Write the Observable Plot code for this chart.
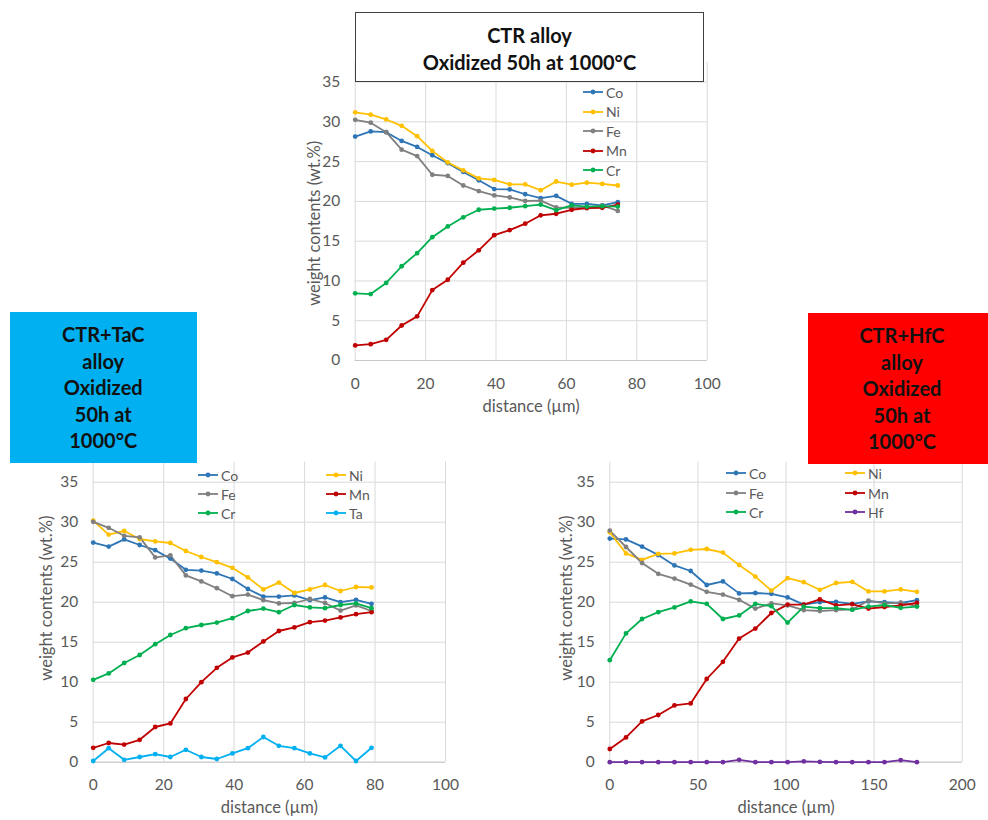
<!DOCTYPE html>
<html><head><meta charset="utf-8">
<script src="https://cdn.jsdelivr.net/npm/d3@7"></script>
<script src="https://cdn.jsdelivr.net/npm/@observablehq/plot@0.6"></script>
<style>
body{margin:0;background:#fff;width:988px;height:820px;position:relative;overflow:hidden;font-family:Lato,"Open Sans",sans-serif;}
.chart{position:absolute;}
.box{position:absolute;display:flex;flex-direction:column;justify-content:center;align-items:center;text-align:center;font-weight:bold;font-size:20px;line-height:26.5px;color:#111;box-sizing:border-box;}
.li{position:absolute;display:flex;align-items:center;white-space:nowrap;font-size:14px;color:#595959;height:16px;}
</style></head><body>
<script>
// ---------- data ----------
const colorOf = {Co: "#2E75B6", Ni: "#FFC000", Fe: "#808080", Mn: "#C00000", Cr: "#00B050", Ta: "#00B0F0", Hf: "#7030A0"};
const yTicks = [0, 5, 10, 15, 20, 25, 30, 35];

// CTR alloy
const ctrDist = [0, 4.4, 8.8, 13.2, 17.6, 21.9, 26.3, 30.7, 35.1, 39.5, 43.9, 48.3, 52.7, 57.1, 61.5, 65.8, 70.2, 74.6];
const ctrCo = [28.15, 28.8, 28.7, 27.6, 26.85, 25.8, 24.8, 23.7, 22.65, 21.55, 21.5, 20.9, 20.4, 20.7, 19.7, 19.7, 19.5, 19.9];
const ctrNi = [31.2, 30.9, 30.3, 29.5, 28.2, 26.35, 24.9, 23.9, 22.9, 22.7, 22.15, 22.15, 21.4, 22.5, 22.1, 22.35, 22.2, 22.0];
const ctrFe = [30.25, 29.9, 28.7, 26.5, 25.7, 23.35, 23.2, 22.0, 21.3, 20.75, 20.5, 20.05, 20.1, 19.25, 19.2, 19.2, 19.5, 18.8];
const ctrMn = [1.9, 2.05, 2.6, 4.4, 5.55, 8.85, 10.15, 12.3, 13.85, 15.75, 16.4, 17.2, 18.25, 18.45, 18.95, 19.15, 19.2, 19.6];
const ctrCr = [8.45, 8.35, 9.75, 11.85, 13.5, 15.5, 16.85, 18.0, 18.95, 19.1, 19.2, 19.4, 19.6, 18.9, 19.5, 19.35, 19.4, 19.35];
const ctrTicksX = [0, 20, 40, 60, 80, 100];

// CTR+TaC alloy
const tacDist = [0, 4.4, 8.8, 13.2, 17.6, 21.9, 26.3, 30.7, 35.1, 39.5, 43.9, 48.3, 52.7, 57.1, 61.5, 65.8, 70.2, 74.6, 79.0];
const tacCo = [27.45, 26.95, 27.85, 27.15, 26.5, 25.45, 24.05, 23.95, 23.6, 22.9, 21.65, 20.7, 20.7, 20.85, 20.25, 20.6, 20.0, 20.3, 19.8];
const tacNi = [30.2, 28.45, 28.9, 27.9, 27.6, 27.4, 26.4, 25.65, 25.0, 24.3, 23.1, 21.6, 22.45, 21.15, 21.6, 22.15, 21.4, 21.9, 21.85];
const tacFe = [30.05, 29.3, 28.3, 28.1, 25.6, 25.85, 23.35, 22.6, 21.75, 20.75, 20.95, 20.25, 19.85, 19.9, 20.4, 19.9, 18.95, 19.6, 18.9];
const tacMn = [1.8, 2.4, 2.2, 2.8, 4.4, 4.85, 7.9, 10.0, 11.8, 13.1, 13.7, 15.1, 16.4, 16.85, 17.5, 17.7, 18.1, 18.5, 18.75];
const tacCr = [10.3, 11.1, 12.4, 13.4, 14.75, 15.9, 16.75, 17.15, 17.45, 18.0, 18.9, 19.2, 18.75, 19.65, 19.35, 19.25, 19.65, 19.85, 19.25];
const tacTa = [0.15, 1.75, 0.3, 0.65, 1.0, 0.65, 1.55, 0.65, 0.4, 1.1, 1.75, 3.15, 2.05, 1.75, 1.1, 0.6, 2.05, 0.15, 1.8];
const tacTicksX = [0, 20, 40, 60, 80, 100];

// CTR+HfC alloy
const hfcDist = [0, 9.2, 18.3, 27.5, 36.7, 45.9, 55.0, 64.2, 73.4, 82.6, 91.7, 100.9, 110.1, 119.2, 128.4, 137.6, 146.8, 155.9, 165.1, 174.3];
const hfcCo = [27.95, 27.85, 26.95, 25.9, 24.6, 23.9, 22.15, 22.6, 21.1, 21.15, 21.05, 20.6, 19.7, 20.0, 20.05, 19.8, 20.1, 20.0, 19.9, 20.25];
const hfcNi = [28.75, 26.1, 25.3, 26.05, 26.1, 26.55, 26.65, 26.2, 24.65, 23.2, 21.45, 23.0, 22.5, 21.55, 22.4, 22.55, 21.35, 21.35, 21.6, 21.3];
const hfcFe = [28.95, 26.9, 24.9, 23.55, 22.95, 22.2, 21.3, 20.95, 20.3, 19.2, 19.85, 19.6, 19.0, 18.9, 19.0, 19.1, 20.2, 19.85, 19.95, 19.5];
const hfcMn = [1.65, 3.1, 5.1, 5.9, 7.1, 7.35, 10.4, 12.55, 15.45, 16.7, 18.65, 19.7, 19.7, 20.35, 19.6, 19.75, 19.2, 19.4, 19.6, 19.9];
const hfcCr = [12.75, 16.1, 17.9, 18.75, 19.35, 20.1, 19.8, 17.9, 18.35, 19.8, 19.5, 17.45, 19.45, 19.25, 19.25, 19.05, 19.45, 19.65, 19.3, 19.45];
const hfcHf = [0, 0, 0, 0, 0, 0, 0, 0, 0.3, 0, 0, 0, 0.1, 0.05, 0, 0, 0, 0, 0.25, 0];
const hfcTicksX = [0, 50, 100, 150, 200];

// ---------- drawing ----------
function table(dist, series) {
  return series.flatMap(([name, vals]) => vals.map((v, i) => ({x: dist[i], y: v, name})));
}

function chart(o) {
  const data = table(o.dist, o.series);
  const names = o.series.map(s => s[0]);
  const fig = Plot.plot({
    width: o.width, height: o.height,
    marginLeft: o.ml, marginRight: o.mr, marginTop: o.mt, marginBottom: o.mb,
    style: {fontFamily: "Lato, 'Open Sans', sans-serif", fontSize: "15.5px", color: "#595959", background: "transparent", overflow: "visible"},
    x: {domain: [o.xTicks[0], o.xTicks[o.xTicks.length - 1]]},
    y: {domain: [0, 37.5]},
    color: {domain: names, range: names.map(n => colorOf[n])},
    marks: [
      Plot.gridX(o.xTicks, {stroke: "#D9D9D9", strokeOpacity: 1, strokeWidth: 1}),
      Plot.gridY(yTicks, {stroke: "#D9D9D9", strokeOpacity: 1, strokeWidth: 1}),
      Plot.ruleY([0], {stroke: "#C8C8C8"}),
      Plot.axisX(o.xTicks, {tickSize: 0, tickPadding: 17, fontSize: 15.5, fill: "#595959", label: null}),
      Plot.axisY(yTicks, {tickSize: 0, tickPadding: 15, fontSize: 15.5, fill: "#595959", label: null}),
      Plot.line(data, {x: "x", y: "y", z: "name", stroke: "name", strokeWidth: 1.8}),
      Plot.dot(data, {x: "x", y: "y", fill: "name", r: 2.4}),
      Plot.text(["distance (µm)"], {text: d => d, frameAnchor: "bottom", textAnchor: "middle", lineAnchor: "middle", dy: 46, fontSize: 16.5, fill: "#595959"}),
      Plot.text(["weight contents (wt.%)"], {text: d => d, frameAnchor: "left", textAnchor: "middle", lineAnchor: "middle", rotate: -90, dx: o.ylDx, dy: o.ylDy, fontSize: 16.5, fill: "#595959"})
    ]
  });
  const wrap = document.createElement("div");
  wrap.className = "chart";
  wrap.style.left = o.left + "px";
  wrap.style.top = o.top + "px";
  wrap.appendChild(fig);
  document.body.appendChild(wrap);
}

function legend(items) {
  for (const [name, x, y] of items) {
    const d = document.createElement("div");
    d.className = "li";
    d.style.left = x + "px";
    d.style.top = (y - 8) + "px";
    const c = colorOf[name];
    d.innerHTML = `<svg width="22" height="10" style="margin-right:1px"><line x1="0" y1="5" x2="20" y2="5" stroke="${c}" stroke-width="1.8"/><circle cx="10" cy="5" r="2.4" fill="${c}"/></svg><span>${name}</span>`;
    document.body.appendChild(d);
  }
}

function box(lines, x, y, w, h, style) {
  const d = document.createElement("div");
  d.className = "box";
  Object.assign(d.style, {left: x + "px", top: y + "px", width: w + "px", height: h + "px"}, style);
  d.innerHTML = lines.map(l => `<div>${l}</div>`).join("");
  document.body.appendChild(d);
}

chart({dist: ctrDist, series: [["Co", ctrCo], ["Ni", ctrNi], ["Fe", ctrFe], ["Mn", ctrMn], ["Cr", ctrCr]],
  xTicks: ctrTicksX, left: 280, top: 50, width: 450, height: 380, ml: 74.7, mr: 23.3, mt: 11.7, mb: 70, ylDx: -40, ylDy: 12});
chart({dist: tacDist, series: [["Co", tacCo], ["Ni", tacNi], ["Fe", tacFe], ["Mn", tacMn], ["Cr", tacCr], ["Ta", tacTa]],
  xTicks: tacTicksX, left: 0, top: 450, width: 470, height: 370, ml: 92.7, mr: 25, mt: 11.7, mb: 58.3, ylDx: -46, ylDy: -14});
chart({dist: hfcDist, series: [["Co", hfcCo], ["Ni", hfcNi], ["Fe", hfcFe], ["Mn", hfcMn], ["Cr", hfcCr], ["Hf", hfcHf]],
  xTicks: hfcTicksX, left: 520, top: 450, width: 468, height: 370, ml: 89.3, mr: 26.3, mt: 11.7, mb: 58.3, ylDx: -43, ylDy: -14});

legend([["Co", 583, 92], ["Ni", 583, 111.5], ["Fe", 583, 131], ["Mn", 583, 150.5], ["Cr", 583, 170]]);
legend([["Co", 198, 475], ["Fe", 198, 494], ["Cr", 198, 513], ["Ni", 326, 475], ["Mn", 326, 494], ["Ta", 326, 513]]);
legend([["Co", 726, 473], ["Fe", 726, 493], ["Cr", 726, 512], ["Ni", 845, 473], ["Mn", 845, 493], ["Hf", 845, 512]]);

box(["CTR alloy", "Oxidized 50h at 1000°C"], 355, 12, 349, 70, {background: "#fff", border: "1px solid #404040", lineHeight: "27px", paddingTop: "3px"});
box(["CTR+TaC", "alloy", "Oxidized", "50h at", "1000°C"], 9.5, 312, 187.5, 151, {background: "#00B0F0"});
box(["CTR+HfC", "alloy", "Oxidized", "50h at", "1000°C"], 808, 313, 188, 151, {background: "#FF0000"});
</script>
</body></html>
